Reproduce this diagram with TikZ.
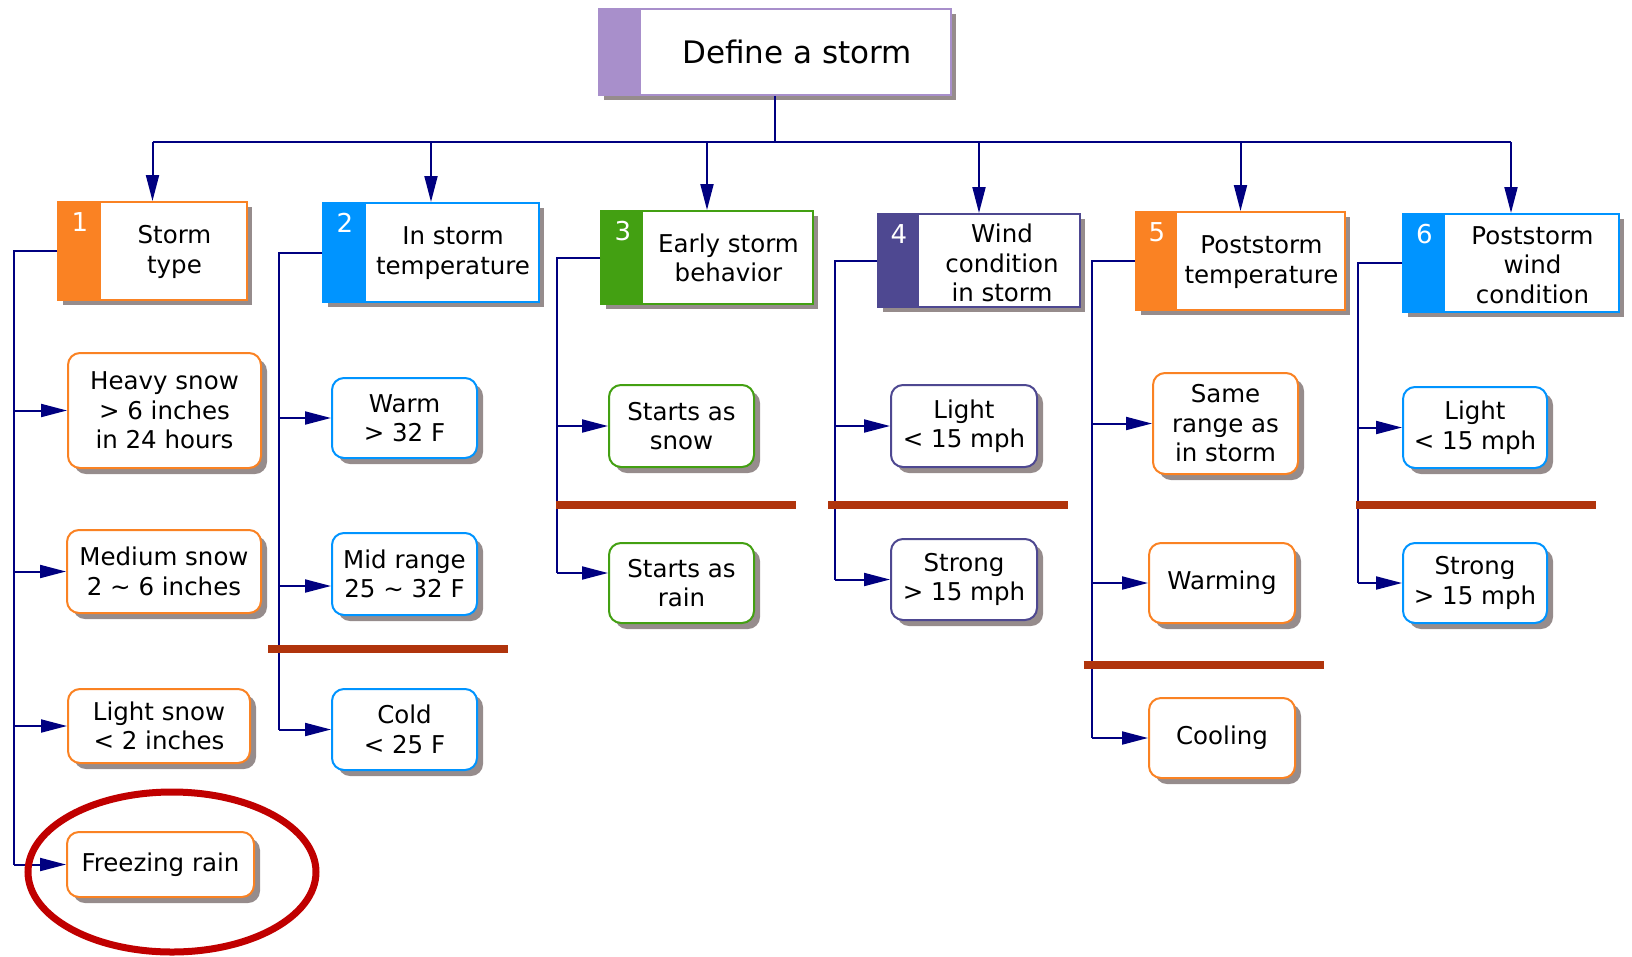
\documentclass[tikz,border=0pt]{standalone}
\usepackage{fontspec}
\setmainfont{DejaVu Sans}
\usetikzlibrary{arrows.meta,shadows,calc}
\definecolor{cOrange}{RGB}{250,130,35}
\definecolor{cBlue}{RGB}{0,148,255}
\definecolor{cGreen}{RGB}{67,160,18}
\definecolor{cPurple}{RGB}{78,72,145}
\definecolor{cLav}{RGB}{168,143,203}
\definecolor{cShadow}{RGB}{150,140,140}
\definecolor{cSep}{RGB}{176,52,12}
\definecolor{cLine}{RGB}{0,0,128}
\definecolor{cRing}{RGB}{192,0,0}
\newcommand\leaffont{\fontsize{24.5}{29.5}\selectfont}
\newcommand\catnumfont{\fontsize{26}{26}\selectfont}
\newcommand\rootfont{\fontsize{31}{36}\selectfont}
\begin{document}
\begin{tikzpicture}[x=1pt,y=-1pt,
  conn/.style={draw=cLine, line width=2pt},
  arr/.style={conn, -{Triangle[length=26pt,width=13pt]}},
  leaf/.style={draw=#1, line width=2pt, fill=white, rounded corners=12pt, inner sep=0pt, align=center, font=\leaffont,
    drop shadow={shadow xshift=6pt, shadow yshift=-6pt, fill=cShadow, opacity=1}},
  cat/.style={draw=#1, line width=2pt, fill=white, inner sep=0pt,
    drop shadow={shadow xshift=5pt, shadow yshift=-5pt, fill=cShadow, opacity=1}},
  cattext/.style={align=center, font=\leaffont, inner sep=0pt},
  num/.style={text=white, font=\catnumfont, inner sep=0pt},
  sep/.style={draw=cSep, line width=8pt},
]
\useasboundingbox (0,0) rectangle (1632,956);

% root
\node[cat=cLav, line width=1.5pt, minimum width=352, minimum height=86] (root) at (775,52) {};
\fill[cLav] (root.north west) rectangle ([xshift=43pt]root.south west);
\node[font=\rootfont, inner sep=0pt] (roott) at (797,52) {Define a storm};

% categories
\node[cat=cOrange, minimum width=189, minimum height=98] (c1) at (152.5,251) {};
\fill[cOrange] (c1.north west) rectangle ([xshift=44pt]c1.south west);
\node[num] (n1) at (80,222) {1};
\node[cattext] (c1t) at (174.5,252) {Storm\\type};

\node[cat=cBlue, minimum width=216, minimum height=99] (c2) at (431,252.5) {};
\fill[cBlue] (c2.north west) rectangle ([xshift=44pt]c2.south west);
\node[num] (n2) at (345,223) {2};
\node[cattext] (c2t) at (453,253) {In storm\\temperature};

\node[cat=cGreen, minimum width=211.5, minimum height=93] (c3) at (707,257.5) {};
\fill[cGreen] (c3.north west) rectangle ([xshift=42.5pt]c3.south west);
\node[num] (n3) at (623,231) {3};
\node[cattext] (c3t) at (728.5,258) {Early storm\\behavior};

\node[cat=cPurple, minimum width=202, minimum height=93] (c4) at (979,260.5) {};
\fill[cPurple] (c4.north west) rectangle ([xshift=42pt]c4.south west);
\node[num] (n4) at (899,234) {4};
\node[cattext] (c4t) at (1002,263) {Wind\\condition\\in storm};

\node[cat=cOrange, minimum width=209, minimum height=98] (c5) at (1240.5,261) {};
\fill[cOrange] (c5.north west) rectangle ([xshift=42pt]c5.south west);
\node[num] (n5) at (1157,232) {5};
\node[cattext] (c5t) at (1261.5,262) {Poststorm\\temperature};

\node[cat=cBlue, minimum width=216, minimum height=98] (c6) at (1511,263) {};
\fill[cBlue] (c6.north west) rectangle ([xshift=43pt]c6.south west);
\node[num] (n6) at (1424.5,234) {6};
\node[cattext] (c6t) at (1532.5,265) {Poststorm\\wind\\condition};

% leaves column 1
\node[leaf=cOrange, minimum width=193, minimum height=115] (heavy) at (164.5,410.5) {Heavy snow\\> 6 inches\\in 24 hours};
\node[leaf=cOrange, minimum width=194, minimum height=83] (medium) at (164,571.5) {Medium snow\\2 \textasciitilde{} 6 inches};
\node[leaf=cOrange, minimum width=182, minimum height=74] (lsnow) at (159,726) {Light snow\\< 2 inches};
\node[leaf=cOrange, minimum width=187, minimum height=65] (freeze) at (160.5,864.5) {Freezing rain};
% column 2
\node[leaf=cBlue, minimum width=145, minimum height=80] (warm) at (404.5,418) {Warm\\> 32 F};
\node[leaf=cBlue, minimum width=145, minimum height=82] (mid) at (404.5,574) {Mid range\\25 \textasciitilde{} 32 F};
\node[leaf=cBlue, minimum width=145, minimum height=81] (cold) at (404.5,729.5) {Cold\\< 25 F};
% column 3
\node[leaf=cGreen, minimum width=145, minimum height=82] (snow3) at (681.5,426) {Starts as\\snow};
\node[leaf=cGreen, minimum width=145, minimum height=80] (rain3) at (681.5,583) {Starts as\\rain};
% column 4
\node[leaf=cPurple, minimum width=146, minimum height=82] (light4) at (964,426) {Light\\< 15 mph};
\node[leaf=cPurple, minimum width=146, minimum height=81] (strong4) at (964,579.5) {Strong\\> 15 mph};
% column 5
\node[leaf=cOrange, minimum width=145, minimum height=101] (same5) at (1225.5,423.5) {Same\\range as\\in storm};
\node[leaf=cOrange, minimum width=146, minimum height=80] (warming) at (1222,583) {Warming};
\node[leaf=cOrange, minimum width=146, minimum height=80] (cooling) at (1222,738) {Cooling};
% column 6
\node[leaf=cBlue, minimum width=144, minimum height=81] (light6) at (1475,427.5) {Light\\< 15 mph};
\node[leaf=cBlue, minimum width=144, minimum height=80] (strong6) at (1475,583) {Strong\\> 15 mph};

% top connectors
\coordinate (bus) at (775,142);
\draw[conn] (root.south) -- (bus);
\draw[conn] (c1.north |- bus) -- (c6.north |- bus);
\foreach \c in {c1,c2,c3,c4,c5,c6} {
  \draw[arr] (\c.north |- bus) -- (\c.north);
}

% trunks
\coordinate (t1) at (14,251);
\coordinate (t2) at (279,252.5);
\coordinate (t3) at (556.5,257.5);
\coordinate (t4) at (834.5,260.5);
\coordinate (t5) at (1092,261);
\coordinate (t6) at (1357.5,263);
\coordinate (midin) at ([yshift=-12pt]mid.west);
\coordinate (rainin) at ([yshift=10pt]rain3.west);

\draw[conn] (c1.west) -- (t1) -- (t1 |- freeze.west);
\foreach \l in {heavy,medium,lsnow,freeze} { \draw[arr] (t1 |- \l.west) -- (\l.west); }

\draw[conn] (c2.west) -- (t2) -- (t2 |- cold.west);
\draw[arr] (t2 |- warm.west) -- (warm.west);
\draw[arr] (t2 |- midin) -- (midin);
\draw[arr] (t2 |- cold.west) -- (cold.west);

\draw[conn] (c3.west) -- (t3) -- (t3 |- rainin);
\draw[arr] (t3 |- snow3.west) -- (snow3.west);
\draw[arr] (t3 |- rainin) -- (rainin);

\draw[conn] (c4.west) -- (t4) -- (t4 |- strong4.west);
\foreach \l in {light4,strong4} { \draw[arr] (t4 |- \l.west) -- (\l.west); }

\draw[conn] (c5.west) -- (t5) -- (t5 |- cooling.west);
\foreach \l in {same5,warming,cooling} { \draw[arr] (t5 |- \l.west) -- (\l.west); }

\draw[conn] (c6.west) -- (t6) -- (t6 |- strong6.west);
\foreach \l in {light6,strong6} { \draw[arr] (t6 |- \l.west) -- (\l.west); }

% separators
\draw[sep] (268,649) -- (508,649);
\draw[sep] (556,505) -- (796,505);
\draw[sep] (828,505) -- (1068,505);
\draw[sep] (1083.5,665) -- (1324,665);
\draw[sep] (1356,505) -- (1596,505);

% highlight ring
\draw[cRing, line width=7pt] (172,872) ellipse [x radius=144pt, y radius=80pt];
\end{tikzpicture}
\end{document}
